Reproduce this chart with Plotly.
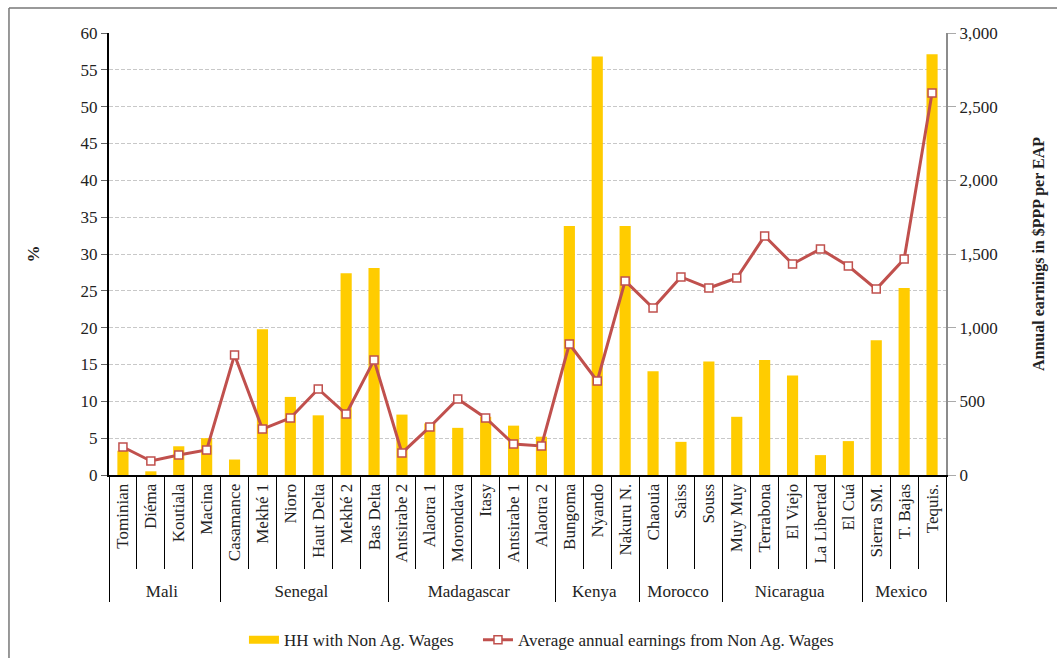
import plotly.graph_objects as go

countries = ["Mali"] * 4 + ["Senegal"] * 6 + ["Madagascar"] * 6 + ["Kenya"] * 3 + \
    ["Morocco"] * 3 + ["Nicaragua"] * 5 + ["Mexico"] * 3
sites = ["Tominian", "Diéma", "Koutiala", "Macina",
         "Casamance", "Mekhé 1", "Nioro", "Haut Delta", "Mekhé 2", "Bas Delta",
         "Antsirabe 2", "Alaotra 1", "Morondava", "Itasy", "Antsirabe 1", "Alaotra 2",
         "Bungoma", "Nyando", "Nakuru N.",
         "Chaouia", "Saiss", "Souss",
         "Muy Muy", "Terrabona", "El Viejo", "La Libertad", "El Cuá",
         "Sierra SM.", "T. Bajas", "Tequis."]

hh_share = [3.3, 0.5, 3.9, 5.0,
            2.1, 19.8, 10.6, 8.1, 27.4, 28.1,
            8.2, 7.0, 6.4, 7.9, 6.7, 5.2,
            33.8, 56.8, 33.8,
            14.1, 4.5, 15.4,
            7.9, 15.6, 13.5, 2.7, 4.6,
            18.3, 25.4, 57.1]

earnings = [190, 95, 136, 170,
            815, 312, 387, 584, 414, 780,
            150, 326, 516, 387, 210, 197,
            889, 638, 1317,
            1133, 1344, 1269,
            1337, 1622, 1432, 1534, 1418,
            1262, 1466, 2593]

left_ticks = list(range(0, 61, 5))
right_ticks = list(range(0, 3001, 500))

FONT = "Liberation Serif"
BAR_COLOR = "#FFCC00"
LINE_COLOR = "#C0504D"
x = [countries, sites]

fig = go.Figure()

fig.add_trace(
    go.Bar(
        x=x,
        y=hh_share,
        name="HH with Non Ag. Wages",
        marker=dict(color=BAR_COLOR, line=dict(width=0)),
        showlegend=False,
    )
)

# legend-only entry so the bar key is drawn as a flat rectangle like the original
fig.add_trace(
    go.Scatter(
        x=[countries[:1], sites[:1]],
        y=[None],
        mode="lines",
        name="HH with Non Ag. Wages",
        line=dict(color=BAR_COLOR, width=8),
        legend="legend",
    )
)

fig.add_trace(
    go.Scatter(
        x=x,
        y=earnings,
        yaxis="y2",
        mode="lines+markers",
        name="Average annual earnings from Non Ag. Wages",
        line=dict(color=LINE_COLOR, width=3),
        marker=dict(symbol="square", size=8, color="white",
                    line=dict(color=LINE_COLOR, width=1.5)),
        legend="legend2",
    )
)

legend_style = dict(
    orientation="h",
    xref="container",
    yref="container",
    xanchor="left",
    y=0.027,
    yanchor="middle",
    font=dict(family=FONT, size=17),
    bgcolor="rgba(0,0,0,0)",
)

fig.update_layout(
    width=1057,
    height=658,
    paper_bgcolor="white",
    plot_bgcolor="white",
    font=dict(family=FONT, size=17, color="#222222"),
    margin=dict(l=109, r=111, t=33, b=183),
    bargap=0.6,
    showlegend=True,
    legend=dict(legend_style, x=0.2308),
    legend2=dict(legend_style, x=0.4522),
    xaxis=dict(
        type="multicategory",
        automargin=False,
        range=[-0.5, len(sites) - 0.5],
        showline=True,
        linecolor="black",
        linewidth=2,
        ticks="outside",
        ticklen=92,
        tickcolor="black",
        tickwidth=1,
        tickangle=-90,
        showdividers=True,
        dividercolor="black",
        dividerwidth=1,
        showgrid=False,
        tickfont=dict(family=FONT, size=17),
    ),
    yaxis=dict(
        automargin=False,
        range=[0, 60],
        tickvals=left_ticks,
        showline=True,
        linecolor="black",
        linewidth=2,
        ticks="outside",
        ticklen=6,
        tickcolor="#666666",
        showgrid=True,
        gridcolor="#C8C8C8",
        griddash="4px,2px",
        gridwidth=1,
        zeroline=False,
        tickfont=dict(family=FONT, size=17),
        title=dict(text="<b>%</b>", font=dict(family=FONT, size=17), standoff=37),
    ),
    yaxis2=dict(
        automargin=False,
        range=[0, 3000],
        tickvals=right_ticks,
        tickformat=",",
        overlaying="y",
        side="right",
        showline=True,
        linecolor="#8C8C8C",
        linewidth=2,
        ticks="outside",
        ticklen=8,
        tickcolor="#AAAAAA",
        showgrid=False,
        zeroline=False,
        tickfont=dict(family=FONT, size=17),
        title=dict(text="<b>Annual earnings in $PPP per EAP</b>",
                   font=dict(family=FONT, size=16), standoff=36),
    ),
    shapes=[
        dict(type="line", xref="paper", yref="paper",
             x0=-0.1195, x1=1.2, y0=1.0566, y1=1.0566,
             line=dict(color="#777777", width=1.5)),
        dict(type="line", xref="paper", yref="paper",
             x0=-0.1195, x1=-0.1195, y0=1.0566, y1=-0.45,
             line=dict(color="#777777", width=1.5)),
    ],
)

fig.write_html(
    "out.html",
    config={"displayModeBar": False},
    post_script="document.body.style.margin = '0';",
)
